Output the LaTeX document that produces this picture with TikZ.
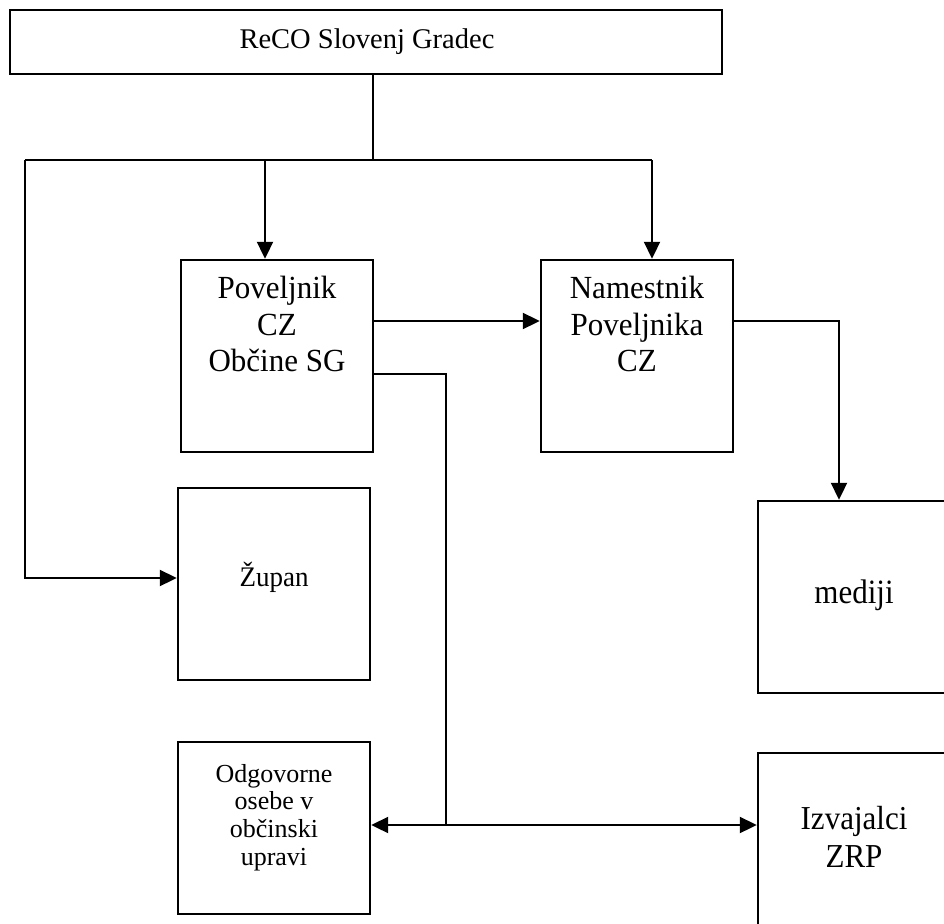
\documentclass[tikz,border=0pt]{standalone}
\usepackage{fontspec}
\setmainfont{Liberation Serif}
\usetikzlibrary{positioning,arrows.meta}

% text in the boxes is stretched a little, as in the original drawing
\newcommand{\napis}[3]{\scalebox{#1}[#2]{\begin{tabular}{@{}c@{}}#3\end{tabular}}}

\begin{document}
\begin{tikzpicture} [x=1pt, y=-1pt, line width=2pt,
                    >={Triangle[length=17pt,width=16pt]},
                    okvir/.style={draw,line width=2.4pt,minimum width=192pt,minimum height=192pt,inner sep=0pt},
                    velik/.style={font=\fontsize{31}{35}\selectfont,inner sep=0pt},
                    srednji/.style={font=\fontsize{27}{30}\selectfont,inner sep=0pt},
                    mali/.style={font=\fontsize{26}{27.7}\selectfont,inner sep=0pt}]

\useasboundingbox (0,0) rectangle (944,923);

\node[draw,line width=2.4pt,minimum width=712pt,minimum height=64pt] (RECO) at (366,42) {};

\node[okvir] (POV) at (277,356) {};
\node[okvir] (NAM) at (637,356) {};
\node[okvir] (ZUP) at (274,584) {};
\node[okvir] (MED) at (854,597) {};
\node[okvir,minimum height=172pt] (ODG) at (274,828) {};
\node[okvir] (IZV) at (854,849) {};

\node[font=\fontsize{28.5}{32}\selectfont,inner sep=0pt] (RECOt) at (367,42) {\napis{1}{1}{ReCO Slovenj Gradec}};
\node[velik] (POVt) at (277,328) {\napis{1}{1.04}{Poveljnik\\CZ\\Občine SG}};
\node[velik] (NAMt) at (637,328) {\napis{1}{1.04}{Namestnik\\Poveljnika\\CZ}};
\node[srednji] (ZUPt) at (274,579) {\napis{1}{1.05}{Župan}};
\node[velik] (MEDt) at (854,596) {\napis{1}{1.1}{mediji}};
\node[mali] (ODGt) at (274,818) {\napis{1}{1}{Odgovorne\\osebe v\\občinski\\upravi}};
\node[velik] (IZVt) at (854,841) {\napis{1}{1.08}{Izvajalci\\ZRP}};

\coordinate (raz) at (373,160);
\coordinate (L) at (25,160);
\coordinate (R) at (652,160);
\coordinate (a1) at (265,160);
\coordinate (dol) at (446,825);

\draw (RECO.south -| raz) -- (raz);
\draw (L) -- (R);
\draw[->] (a1) -- (a1 |- POV.north);
\draw[->] (R) -- (R |- NAM.north);
\draw[->] (L) |- ([yshift=6pt]ZUP.west);
\draw[->] ([yshift=35pt]POV.east) -- ([yshift=35pt]NAM.west);
\draw[->] ([yshift=35pt]NAM.east) -| ([xshift=-15pt]MED.north);
\draw ([yshift=-18pt]POV.east) -| (dol);
\draw[<->] (ODG.east |- dol) -- (IZV.west |- dol);
\end{tikzpicture}
\end{document}
